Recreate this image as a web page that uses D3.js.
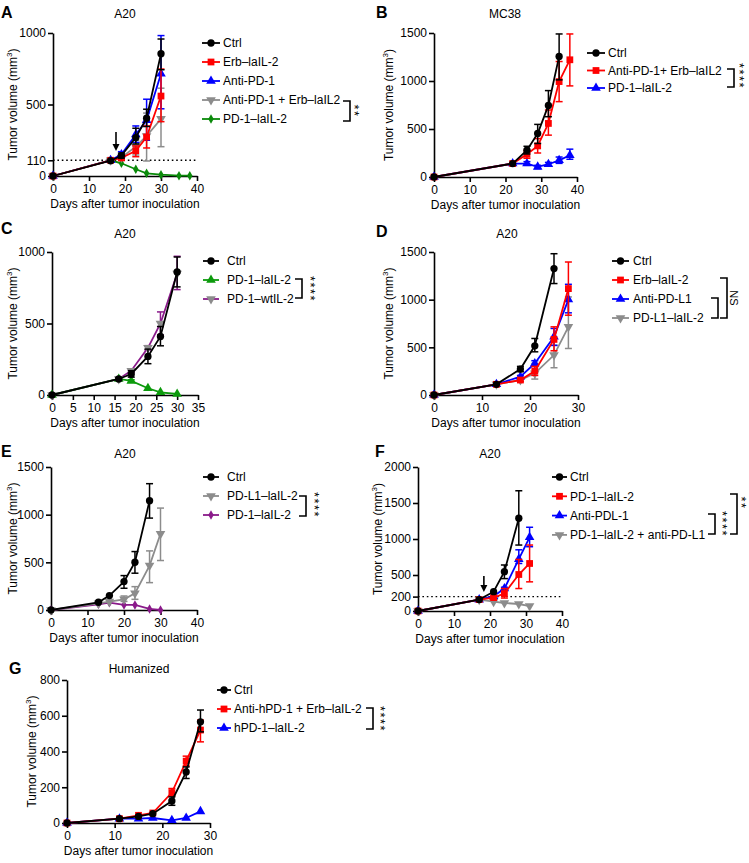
<!DOCTYPE html>
<html><head><meta charset="utf-8">
<script src="https://cdn.jsdelivr.net/npm/d3@7"></script>
<style>body{margin:0;background:#fff}text{font-family:"Liberation Sans",Arial,sans-serif}</style>
</head><body>
<script>
// ---- DATA: [day, mean, upperErr, lowerErr] ----
const a_ctrl   = [[0,0],[16,107],[19,143,160,125],[23,269,334,224],[26,404,467,346],[30,855,958,743]];
const a_erb    = [[0,0],[16,110],[19,126,140,112],[23,177,210,135],[26,273,350,196],[30,559,748,380]];
const a_apd1   = [[0,0],[16,110],[19,150,170,135],[23,290,350,235],[26,390,537,250],[30,715,982,470]];
const a_combo  = [[0,0],[16,110],[19,130,145,118],[23,205,250,147],[26,280,440,105],[30,400,614,205]];
const a_pd1    = [[0,0],[16,110],[19,89],[23,47],[26,19],[30,9],[35,2],[38,2]];

const b_ctrl   = [[0,0],[22,140],[26,279,320,240],[29,453,548,349],[32,746,900,628],[35,1256,1490,1012]];
const b_combo  = [[0,0],[22,140],[26,237,280,195],[29,324,400,250],[32,558,698,436],[35,994,1203,785],[38,1221,1490,949]];
const b_pd1    = [[0,0],[22,140],[26,140,160,122],[29,105,122,88],[32,133,152,115],[35,174,208,142],[38,227,290,185]];

const c_ctrl   = [[0,0],[16,112,122,102],[19,147,170,125],[23,270,321,219],[26,409,479,344],[30,860,965,756]];
const c_pd1    = [[0,0],[16,112],[19,98,106,90],[23,47],[26,19],[30,7]];
const c_wt     = [[0,0],[16,112],[19,170,182,158],[23,330,345,315],[26,500,581,420],[30,850,970,737]];

const d_ctrl   = [[0,0],[13,112],[18,272,300,245],[21,516,593,453],[25,1326,1482,1169]];
const d_erb    = [[0,0],[13,112],[18,157,175,140],[21,251,300,205],[25,583,715,464],[28,1116,1395,837]];
const d_apdl1  = [[0,0],[13,112],[18,192,205,180],[21,331,360,300],[25,610,698,520],[28,1001,1161,862]];
const d_pdl1   = [[0,0],[13,112],[18,157,170,145],[21,227,331,167],[25,419,523,286],[28,715,1029,488]];

const e_ctrl   = [[0,0],[13,81],[16,151],[20,298,361,228],[23,501,613,386],[27,1146,1325,964]];
const e_pdl1   = [[0,0],[13,70],[16,88],[20,112,147,90],[23,175,245,112],[27,466,620,287],[30,799,1069,519]];
const e_pd1    = [[0,0],[13,60],[16,77],[20,53],[23,53],[27,11],[30,0]];

const f_ctrl   = [[0,0],[17,158],[21,268],[24,546,639,450],[28,1288,1670,916]];
const f_pd1    = [[0,0],[17,158],[21,186,205,165],[24,242,312,180],[28,507,716,312],[31,660,916,405]];
const f_apdl1  = [[0,0],[17,158],[21,205],[24,312,330,295],[28,720,850,660],[31,1023,1163,893]];
const f_combo  = [[0,0],[17,158],[21,129],[24,111],[28,97],[31,69]];

const g_ctrl   = [[0,0],[11,24],[15,37],[18,52],[22,123,146,99],[25,286,314,249],[28,566,632,510]];
const g_combo  = [[0,0],[11,24],[15,43],[18,56],[22,170,193,150],[25,346,374,320],[28,520,576,454]];
const g_hpd1   = [[0,0],[11,24],[15,24],[18,28],[22,15],[25,28],[28,65]];

// tick labels
const ticks40 = [0,10,20,30,40], ticks35=[0,5,10,15,20,25,30,35], ticks30=[0,10,20,30];
const aY=[0,110,500,1000], bY=[0,500,1000,1500], cY=[0,500,1000], fY=[0,200,500,1000,1500,2000], gY=[0,200,400,600,800];

const BLACK="#000", RED="#ff0000", BLUE="#0000ff", GRAY="#8c8c8c", GREEN="#0a8a0a", GREEN2="#0c9a0c", PURPLE="#8a1a8a";

const W=749,H=863;
const svg=d3.select("body").append("svg").attr("width",W).attr("height",H);

function sym(shape){
  const map={circle:[d3.symbolCircle,42],square:[d3.symbolSquare,46],up:[d3.symbolTriangle,40],down:[d3.symbolTriangle,40],diamond:[d3.symbolDiamond,26]};
  return d3.symbol().type(map[shape][0]).size(map[shape][1])();
}

function vtext(g,x,yc,str,size,ls,shift){
  g.append("text").attr("transform",`translate(${x-shift},${yc}) rotate(90)`).attr("text-anchor","middle")
   .attr("font-size",size).attr("letter-spacing",ls).text(str);
}

function panel(c){
  const x=d3.scaleLinear().domain(c.xDom).range([c.x0,c.x1]);
  const y=d3.scaleLinear().domain(c.yDom).range([c.yBot,c.yTop]);
  const g=svg.append("g");
  g.append("text").attr("x",c.lx).attr("y",c.ly).attr("font-size",16).attr("font-weight","bold").text(c.letter);
  g.append("text").attr("x",c.tx).attr("y",c.ty).attr("text-anchor","middle").attr("font-size",12).text(c.title);
  if(c.dotted!==undefined){
    g.append("line").attr("x1",x(0)).attr("x2",x(c.xDom[1])).attr("y1",y(c.dotted)).attr("y2",y(c.dotted))
     .attr("stroke","#000").attr("stroke-width",1.3).attr("stroke-dasharray","1.6,2.8");
  }
  const fmt=d3.format("d");
  const ax=g.append("g").attr("transform",`translate(0,${c.yBot})`)
    .call(d3.axisBottom(x).tickValues(c.xTicks).tickFormat(fmt).tickSize(5).tickPadding(3).tickSizeOuter(0));
  const ay=g.append("g").attr("transform",`translate(${c.x0},0)`)
    .call(d3.axisLeft(y).tickValues(c.yTicks).tickFormat(fmt).tickSize(5).tickPadding(2).tickSizeOuter(0));
  [ax,ay].forEach(a=>{
    a.selectAll("path,line").attr("stroke","#000").attr("stroke-width",1.6);
    a.selectAll("text").attr("font-size",12).attr("fill","#000").style("font-family","'Liberation Sans',Arial,sans-serif");
  });
  g.append("text").attr("x",(c.x0+c.x1)/2).attr("y",c.yBot+32).attr("text-anchor","middle").attr("font-size",12).text("Days after tumor inoculation");
  const yl=g.append("text").attr("transform",`translate(${c.ylx},${(c.yTop+c.yBot)/2}) rotate(-90)`).attr("text-anchor","middle").attr("font-size",12);
  yl.append("tspan").text("Tumor volume (mm");
  yl.append("tspan").attr("font-size",8).attr("dy",-5).text("3");
  yl.append("tspan").attr("dy",5).text(")");
  if(c.arrow){
    const ax0=x(c.arrow.day);
    g.append("line").attr("x1",ax0).attr("x2",ax0).attr("y1",c.arrow.y1).attr("y2",c.arrow.y2-5).attr("stroke","#000").attr("stroke-width",1.6);
    g.append("path").attr("d",`M${ax0-3.5},${c.arrow.y2-7}L${ax0+3.5},${c.arrow.y2-7}L${ax0},${c.arrow.y2}Z`).attr("fill","#000");
  }
  const line=d3.line().x(d=>x(d[0])).y(d=>y(d[1]));
  c.series.slice().reverse().forEach(s=>{
    const lc=s.line||s.color;
    const sg=g.append("g");
    s.data.filter(d=>d.length>2).forEach(d=>{
      const xx=x(d[0]);
      sg.append("line").attr("x1",xx).attr("x2",xx).attr("y1",y(d[2])).attr("y2",y(d[3])).attr("stroke",lc).attr("stroke-width",1.5);
      [d[2],d[3]].forEach(v=>sg.append("line").attr("x1",xx-3.5).attr("x2",xx+3.5).attr("y1",y(v)).attr("y2",y(v)).attr("stroke",lc).attr("stroke-width",1.5));
    });
    sg.append("path").datum(s.data).attr("d",line).attr("fill","none").attr("stroke",lc).attr("stroke-width",1.8);
    sg.selectAll(".m").data(s.data).enter().append("path").attr("d",sym(s.shape))
      .attr("transform",d=>`translate(${x(d[0])},${y(d[1])})${s.shape==="down"?" rotate(180)":""}`)
      .attr("fill",s.color);
  });
  const L=c.legend;
  c.series.forEach((s,i)=>{
    const yy=L.y0+i*L.dy;
    const lc=s.line||s.color;
    g.append("line").attr("x1",L.x).attr("x2",L.x+L.len).attr("y1",yy).attr("y2",yy).attr("stroke",lc).attr("stroke-width",1.8);
    g.append("path").attr("d",sym(s.shape)).attr("transform",`translate(${L.x+L.len/2},${yy})${s.shape==="down"?" rotate(180)":""}`).attr("fill",s.color);
    g.append("text").attr("x",L.x+L.len+L.gap).attr("y",yy+4.3).attr("font-size",12).text(s.name);
  });
  (c.brackets||[]).forEach(b=>{
    g.append("path").attr("d",`M${b.x-7},${b.y1}H${b.x}V${b.y2}H${b.x-7}`).attr("fill","none").attr("stroke","#000").attr("stroke-width",1.6);
    if(b.stars) vtext(g,b.sx,b.sy,"*".repeat(b.stars),13,1.5,7);
    if(b.text) vtext(g,b.sx,b.sy,b.text,11,0,4);
  });
}

panel({letter:"A",lx:1,ly:18,title:"A20",tx:125,ty:18,x0:53,x1:197,yTop:33,yBot:176,xDom:[0,40],yDom:[0,1000],xTicks:ticks40,yTicks:aY,ylx:17,
  dotted:110,arrow:{day:17.5,y1:132,y2:151},
  series:[{name:"Ctrl",color:BLACK,shape:"circle",data:a_ctrl},{name:"Erb–laIL-2",color:RED,shape:"square",data:a_erb},
    {name:"Anti-PD-1",color:BLUE,shape:"up",data:a_apd1},{name:"Anti-PD-1 + Erb–laIL2",color:GRAY,shape:"down",data:a_combo},
    {name:"PD-1–laIL-2",color:GREEN,shape:"diamond",data:a_pd1}],
  legend:{x:202,y0:43,dy:19,len:18,gap:3},
  brackets:[{x:350,y1:101,y2:121,stars:2,sx:357,sy:111}]});

panel({letter:"B",lx:376,ly:18,title:"MC38",tx:505,ty:18,x0:434,x1:577,yTop:33,yBot:177,xDom:[0,40],yDom:[0,1500],xTicks:ticks40,yTicks:bY,ylx:393,
  series:[{name:"Ctrl",color:BLACK,shape:"circle",data:b_ctrl},{name:"Anti-PD-1+ Erb–laIL2",color:RED,shape:"square",data:b_combo},
    {name:"PD-1–laIL-2",color:BLUE,shape:"up",data:b_pd1}],
  legend:{x:587,y0:53,dy:17.5,len:18,gap:3},
  brackets:[{x:734,y1:69,y2:87,stars:4,sx:742,sy:76}]});

panel({letter:"C",lx:1,ly:234,title:"A20",tx:125,ty:238,x0:52,x1:198,yTop:252,yBot:395,xDom:[0,35],yDom:[0,1000],xTicks:ticks35,yTicks:cY,ylx:17,
  series:[{name:"Ctrl",color:BLACK,shape:"circle",data:c_ctrl},{name:"PD-1–laIL-2",color:GREEN2,shape:"up",data:c_pd1},
    {name:"PD-1–wtIL-2",color:GRAY,line:PURPLE,shape:"down",data:c_wt}],
  legend:{x:203,y0:261,dy:19,len:16,gap:8},
  brackets:[{x:302,y1:279,y2:298,stars:4,sx:313,sy:289}]});

panel({letter:"D",lx:376,ly:237,title:"A20",tx:507,ty:238,x0:434,x1:578,yTop:252,yBot:395,xDom:[0,30],yDom:[0,1500],xTicks:ticks30,yTicks:bY,ylx:393,
  series:[{name:"Ctrl",color:BLACK,shape:"circle",data:d_ctrl},{name:"Erb–laIL-2",color:RED,shape:"square",data:d_erb},
    {name:"Anti-PD-L1",color:BLUE,shape:"up",data:d_apdl1},{name:"PD-L1–laIL-2",color:GRAY,shape:"down",data:d_pdl1}],
  legend:{x:612,y0:261,dy:19,len:17,gap:4},
  brackets:[{x:718,y1:298,y2:318},{x:727,y1:278,y2:318,text:"NS",sx:734,sy:298}]});

panel({letter:"E",lx:1,ly:457,title:"A20",tx:125,ty:458,x0:51,x1:197,yTop:467,yBot:610,xDom:[0,40],yDom:[0,1500],xTicks:ticks40,yTicks:bY,ylx:17,
  series:[{name:"Ctrl",color:BLACK,shape:"circle",data:e_ctrl},{name:"PD-L1–laIL-2",color:GRAY,shape:"down",data:e_pdl1},
    {name:"PD-1–laIL-2",color:PURPLE,shape:"diamond",data:e_pd1}],
  legend:{x:203,y0:477,dy:19,len:16,gap:8},
  brackets:[{x:306,y1:496,y2:516,stars:4,sx:317,sy:505}]});

panel({letter:"F",lx:375,ly:457,title:"A20",tx:490,ty:458,x0:418,x1:562,yTop:467,yBot:611,xDom:[0,40],yDom:[0,2000],xTicks:ticks40,yTicks:fY,ylx:382,
  dotted:200,arrow:{day:18.3,y1:576,y2:592},
  series:[{name:"Ctrl",color:BLACK,shape:"circle",data:f_ctrl},{name:"PD-1–laIL-2",color:RED,shape:"square",data:f_pd1},
    {name:"Anti-PDL-1",color:BLUE,shape:"up",data:f_apdl1},{name:"PD-1–laIL-2 + anti-PD-L1",color:GRAY,shape:"down",data:f_combo}],
  legend:{x:552,y0:477,dy:19.3,len:15,gap:3},
  brackets:[{x:715,y1:514,y2:534,stars:4,sx:725,sy:524},{x:737,y1:494,y2:534,stars:2,sx:744,sy:503}]});

panel({letter:"G",lx:9,ly:674,title:"Humanized",tx:139,ty:673,x0:67,x1:210,yTop:680,yBot:823,xDom:[0,30],yDom:[0,800],xTicks:ticks30,yTicks:gY,ylx:36,
  series:[{name:"Ctrl",color:BLACK,shape:"circle",data:g_ctrl},{name:"Anti-hPD-1 + Erb–laIL-2",color:RED,shape:"square",data:g_combo},
    {name:"hPD-1–laIL-2",color:BLUE,shape:"up",data:g_hpd1}],
  legend:{x:217,y0:690,dy:19,len:14,gap:3},
  brackets:[{x:373,y1:708,y2:729,stars:4,sx:383,sy:719}]});
</script>
</body></html>
